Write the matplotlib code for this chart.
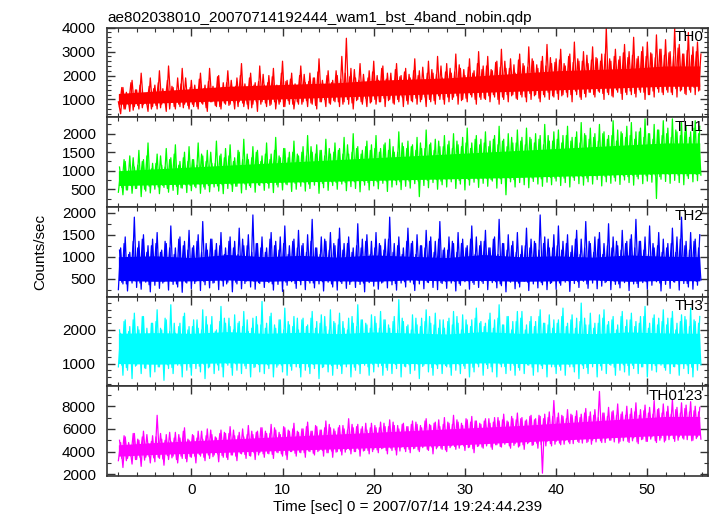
import numpy as np
import matplotlib
matplotlib.use('Agg')
from matplotlib import pyplot as plt
from matplotlib.ticker import MultipleLocator

# light curve of the 4 WAM bands + sum, counts/sec
# "_a" samples start at t0 = -8 s every 0.25 s, "_b" samples fall halfway between them
t_start = -8.0
t_step = 0.25

th0_a = """
900 400 1500 600 1200 500 1800 700 1400 600 2100 800 1100 500 1900 700
1600 600 2200 800 1300 500 2400 900 1500 600 1900 700 2300 800 1200 600
1800 700 1400 600 2100 800 1600 500 2300 900 1300 700 2000 600 1700 800
2200 800 1500 600 1900 900 2500 700 1400 600 2100 800 1700 500 2400 900
1600 700 2000 800 2300 600 1500 900 2600 700 1800 800 2100 600 1400 800
2400 900 1700 700 2100 800 1900 600 2700 900 1500 700 2200 800 1800 900
2000 700 2800 900 3560 800 2300 600 1900 1000 2500 800 1600 700 2200 900
2600 800 1800 900 2400 700 2100 1000 1700 800 2500 900 2000 700 2300 800
1900 900 2700 800 2200 1000 1800 700 2600 900 2100 800 2800 1000 1900 800
2500 900 2100 1100 2900 800 2300 1000 2000 900 2700 1100 2200 800 3000 1000
2400 1000 2800 900 2200 1100 2600 800 3100 1000 2300 900 2700 1200 2100 1000
2900 1100 2400 900 3200 1000 2600 1200 2300 900 2800 1100 3300 1000 2500 1100
2700 1000 3100 1200 2400 1100 2900 900 3400 1200 2600 1000 3000 1100 2500 1300
3200 1100 2700 1300 2900 1000 4000 1200 2600 1100 3100 1300 2800 1000 3300 1200
3000 1200 3600 1100 2800 1300 3200 1000 3400 1200 2900 1100 3700 1300 3100 1200
3500 1300 3000 1200 4000 1100 3300 1400 2900 1200 3800 1300 3200 1200 3400 1400
"""
th0_b = """
700 1500 600 1300 800 1700 550 1400 750 1600 650 1250 800 1550 600 1450
750 1700 650 1450 850 1800 600 1550 700 1350 800 1650 650 1900 750 1500
800 1600 700 1850 850 1450 650 1750 900 1550 750 1950 700 1500 850 1700
750 1800 900 1550 700 2000 850 1650 800 1900 650 1600 900 1750 800 2050
850 1700 750 1950 900 1600 800 2100 700 1750 950 1850 800 1650 900 2000
800 2050 950 1750 850 1900 750 2150 900 1800 1000 2000 850 1700 950 2200
900 1850 800 2100 1000 1950 850 2250 950 1800 900 2050 1050 1900 850 2150
1000 2000 900 2300 1050 1850 950 2100 850 2250 1000 1950 1100 2150 950 2050
950 2200 1050 2000 900 2350 1100 2100 1000 2250 950 2050 1150 2400 1000 2150
1100 2300 1000 2150 1150 2450 950 2250 1050 2350 1200 2100 1000 2500 1100 2250
1050 2400 1150 2250 1200 2550 1000 2350 1100 2600 1200 2300 1150 2450 1050 2650
1200 2500 1100 2350 1250 2700 1150 2450 1050 2600 1200 2400 1300 2750 1150 2550
1250 2650 1150 2500 1300 2800 1200 2550 1350 2700 1100 2600 1250 2850 1300 2650
1200 2750 1350 2600 1250 2900 1300 2700 1150 2800 1400 2650 1250 2950 1300 2750
1350 2850 1250 2700 1400 3000 1300 2800 1200 2950 1350 2750 1450 3100 1300 2850
1400 2950 1300 2800 1450 3150 1350 2900 1250 3050 1400 2850 1500 3000 1350 2900
"""

th1_a = """
420 980 350 1250 480 1400 390 1100 520 1550 300 1300 450 1750 400 1200
500 1450 380 1150 550 1600 420 1350 470 1700 360 1250 530 1500 410 1650
460 1300 540 1750 390 1400 500 1550 430 1200 560 1800 450 1450 380 1600
520 1700 440 1350 580 1500 400 1850 490 1300 550 1650 420 1550 600 1400
470 1750 530 1450 410 1900 560 1350 480 1600 620 1500 440 1800 500 1400
580 1650 450 1950 520 1500 610 1700 390 1550 540 1850 470 1450 600 1750
500 1600 640 1900 460 1450 570 2000 520 1650 430 1550 610 1800 480 1700
590 1950 510 1600 660 1750 440 1850 560 1500 620 2050 490 1650 580 1800
530 1700 650 1900 300 1600 600 2100 540 1750 680 1850 500 1650 620 1950
560 1800 700 2000 520 1700 640 1900 480 2150 610 1750 690 1950 550 1850
660 2050 580 1800 720 1950 530 2200 650 1850 350 2000 700 1750 560 2100
680 1900 620 2150 540 1850 710 2000 640 1950 580 2250 690 1800 620 2050
720 2100 600 1950 680 2200 560 1900 740 2050 650 2300 610 1950 700 2150
640 2000 760 2250 590 2050 700 1950 660 2350 720 2100 630 2000 750 2200
680 2300 610 2050 780 2150 650 2400 720 2000 690 2250 250 2100 770 2350
710 2150 660 2400 740 2050 680 2300 620 2200 790 2050 700 2350 730 2200
"""
th1_b = """
1100 550 1300 480 1000 600 1350 520 1150 650 1250 500 1400 580 1050 620
1200 560 1400 600 1100 520 1300 650 1450 580 1150 540 1350 620 1250 600
1300 580 1150 640 1450 560 1250 600 1500 680 1200 590 1400 620 1350 660
1400 620 1250 580 1550 680 1300 640 1450 600 1350 700 1500 620 1250 660
1450 660 1300 700 1550 620 1400 680 1600 640 1350 720 1500 660 1450 700
1500 680 1400 640 1650 720 1450 700 1550 660 1400 740 1600 700 1500 680
1550 720 1450 680 1700 740 1500 700 1600 760 1450 720 1650 680 1550 740
1600 700 1500 760 1700 720 1550 780 1650 740 1500 700 1750 760 1600 720
1650 760 1550 720 1750 780 1600 740 1700 800 1550 760 1800 720 1650 780
1700 780 1600 820 1800 740 1650 800 1750 760 1600 840 1850 780 1700 800
1750 800 1650 760 1850 840 1700 780 1800 820 1650 800 1900 760 1750 840
1800 820 1700 860 1900 800 1750 840 1850 780 1700 860 1950 820 1800 800
1850 840 1750 800 1950 880 1800 820 1900 860 1750 840 2000 800 1850 880
1900 860 1800 900 2000 840 1850 880 1950 820 1800 900 2050 860 1900 840
1950 880 1850 840 2050 920 1900 860 2000 900 1850 880 2100 840 1950 920
2000 900 1900 940 2100 880 1950 920 2050 860 1900 940 2150 900 2000 880
"""

th2_a = """
250 1200 380 1450 220 1100 400 1900 300 1350 260 1500 420 1250 200 1400
350 1550 280 1150 430 1300 240 1700 370 1200 310 1450 190 1350 400 1600
270 1250 440 1500 230 1800 360 1150 290 1400 410 1300 250 1550 330 1200
420 1450 200 1350 380 1650 270 1250 440 1500 310 1950 260 1300 390 1450
300 1200 410 1550 240 1350 370 1450 210 1700 350 1250 430 1400 280 1600
360 1300 250 1500 400 1850 290 1200 380 1450 220 1350 420 1550 310 1250
240 1650 390 1300 280 1450 430 1200 300 1750 370 1400 200 1500 410 1350
330 1550 260 1250 420 1400 290 1900 360 1300 240 1450 400 1200 310 1650
420 1350 230 1500 380 1250 270 1600 410 1450 300 1350 250 1800 390 1200
280 1450 400 1300 220 1550 350 1400 430 1250 260 1700 370 1450 300 1350
390 1600 250 1200 410 1450 290 1850 340 1300 200 1500 420 1350 270 1550
310 1250 440 1650 230 1400 380 1300 290 1950 360 1450 250 1200 410 1500
260 1700 350 1350 420 1500 210 1250 390 1600 300 1400 440 1800 280 1300
400 1450 270 1550 330 1300 430 1750 250 1450 370 1250 290 1600 410 1350
230 1500 380 1850 300 1350 410 1450 260 1700 350 1200 430 1550 220 1400
370 1300 280 1650 420 1450 240 1900 390 1350 310 1550 260 1400 350 1500
"""
th2_b = """
1150 420 1300 380 1050 500 1350 450 1200 400 1400 520 1100 360 1250 470
1300 480 1100 400 1350 530 1200 440 1050 380 1400 500 1250 420 1150 460
1200 390 1350 510 1100 430 1300 470 1400 400 1150 540 1250 450 1050 380
1350 500 1200 420 1050 460 1400 390 1250 520 1100 440 1300 410 1200 480
1100 440 1400 380 1250 530 1150 460 1300 420 1050 500 1350 390 1200 450
1250 510 1100 450 1350 400 1200 480 1050 430 1400 520 1150 380 1300 460
1400 430 1150 490 1300 370 1100 510 1250 440 1200 400 1350 530 1050 460
1200 470 1300 400 1150 520 1400 450 1100 390 1250 500 1050 430 1350 480
1300 380 1050 460 1250 500 1200 420 1350 470 1100 530 1400 410 1150 440
1150 520 1350 440 1100 390 1300 480 1200 450 1400 410 1050 500 1250 430
1350 460 1200 510 1400 430 1050 380 1300 490 1150 450 1250 520 1100 400
1050 490 1250 420 1200 470 1350 530 1150 410 1300 460 1400 390 1200 510
1250 400 1150 480 1300 450 1100 520 1400 430 1050 470 1200 380 1350 490
1100 530 1400 460 1050 410 1250 490 1200 440 1350 380 1150 510 1300 450
1400 450 1200 390 1350 500 1150 430 1050 480 1300 520 1250 400 1100 470
1200 480 1300 430 1100 510 1400 460 1250 390 1150 500 1350 440 1200 470
"""

th3_a = """
900 1900 650 2300 800 2100 550 2500 950 2000 700 2400 850 1800 600 2200
750 2600 900 2000 500 2300 850 2750 700 1900 950 2200 600 2500 800 2100
650 2300 850 2050 750 2600 550 2150 900 2400 700 2000 800 2700 600 2200
950 2100 650 2450 800 2250 700 2550 850 1950 600 2350 900 2150 750 2850
700 2200 850 2500 600 2050 950 2300 750 2650 650 2150 800 2400 900 2000
600 2350 800 2150 700 2550 850 2250 550 2450 900 2100 750 2600 650 2200
850 2500 700 2050 900 2350 600 2200 800 2750 700 2300 950 2150 650 2450
750 2200 900 2550 650 2300 800 2050 700 2400 850 2900 600 2250 900 2150
700 2450 800 2150 550 2350 950 2600 750 2200 650 2500 850 2300 700 2050
900 2350 650 2550 800 2200 700 2450 850 2150 600 2300 750 2650 900 2250
650 2200 850 2500 750 2300 600 2750 900 2150 700 2400 800 2250 650 2550
800 2550 700 2150 950 2400 650 2250 750 2600 850 2200 600 2450 900 2300
700 2300 800 2650 650 2200 900 2450 750 2350 550 2800 850 2150 700 2500
900 2200 600 2450 800 2600 700 2250 950 2400 650 2150 800 2550 750 2300
650 2500 850 2250 700 2400 900 2700 600 2200 800 2450 750 2350 950 2600
800 2350 700 2550 900 2200 650 2450 850 2300 700 2650 600 2250 800 2400
"""
th3_b = """
2000 950 2250 880 1950 1050 2300 920 2100 1000 2400 870 2050 980 2200 1060
2250 900 2050 1020 2350 960 1950 880 2200 1040 2100 930 2400 1000 2000 890
2100 1050 2300 920 2000 980 2400 870 2150 1030 1950 960 2250 900 2350 1010
2350 880 2000 990 2200 1060 2100 930 2300 1000 2050 880 2400 970 2150 1040
2050 960 2400 1030 2150 890 2300 950 2000 1070 2250 920 2100 1000 2350 880
2300 1020 2100 900 2350 970 2050 1050 2200 880 2400 990 2000 940 2250 1030
2150 930 2250 1000 2000 1060 2400 890 2100 960 2300 1020 2200 900 2050 980
2400 1000 2050 940 2300 880 2150 1030 2250 970 2000 1050 2350 920 2100 960
2000 1040 2350 970 2100 910 2250 1000 2400 880 2150 960 2050 1030 2300 940
2250 890 2150 1020 2400 960 2000 930 2300 1050 2100 890 2350 990 2200 1020
2100 970 2300 900 2050 1040 2350 980 2150 910 2400 1010 2000 950 2250 880
2350 1010 2000 960 2250 890 2100 1050 2400 940 2200 980 2150 1030 2050 900
2200 920 2400 1040 2100 980 2300 900 2050 1010 2250 950 2350 880 2150 1060
2050 1000 2200 930 2350 1050 2150 970 2300 890 2000 1030 2400 960 2100 940
2300 950 2100 1060 2200 900 2400 990 2050 1020 2350 940 2150 1000 2250 880
2150 1030 2350 910 2000 970 2250 1040 2400 950 2100 890 2300 1010 2200 960
"""

th0123_a = """
3200 4800 2600 5300 3400 4500 2900 5600 3300 5000 2700 5800 3500 4700 3000 5400
3100 7200 3400 5100 2800 5500 3300 4900 3600 5700 3000 5200 3400 6100 3100 5000
3500 5400 3000 5800 3600 5100 3200 6000 3400 5500 3700 5200 3100 5900 3500 5600
3300 6200 3700 5400 3200 5700 3800 5300 3400 6300 3600 5500 3300 5800 3900 6100
3500 5600 3800 6400 3400 5900 3900 5500 3600 6100 3300 5800 4000 6500 3600 5700
3900 6000 3500 6600 4000 5800 3700 6200 4100 5900 3600 6700 3900 6100 3500 5800
4000 6300 3700 6000 4200 6900 3800 6100 4000 6400 3600 6200 4100 5900 3800 6500
4200 6100 3900 6600 4300 6200 3800 6800 4100 6300 3700 6000 4400 6500 4000 6200
3900 6700 4300 6400 4000 6100 4500 6900 4100 6300 3800 6600 4400 6200 4200 7000
4000 6500 4500 7200 4200 6600 4600 6300 4100 6800 4400 7100 3900 6700 4500 6400
4300 6900 4700 6500 4200 7000 4600 6700 4400 7300 4800 6600 4300 6900 4700 7400
4500 7000 4200 6800 4800 7200 4600 6900 4300 7100 2100 7300 4900 7500 4500 8500
4900 7400 4600 7100 5000 7700 4700 7200 5100 7600 4800 7300 5200 7800 4900 7500
5000 7700 5300 9300 4800 7400 5200 7900 5000 7600 5400 8200 4900 7500 5300 8000
4800 7800 5200 8300 4700 7700 5100 8100 4900 7900 5300 8500 4800 7800 5200 8200
5000 8000 5400 8600 4900 7900 5300 8300 5100 8100 5500 8400 5000 8000 5300 7900
"""
th0123_b = """
5000 3400 5400 3200 4800 3600 5600 3300 5100 3500 5300 3250 5500 3550 4900 3450
5300 3500 5600 3350 5000 3650 5700 3450 5200 3300 5500 3600 5800 3400 5100 3550
5500 3600 5200 3750 5800 3500 5400 3700 5900 3550 5300 3800 5600 3650 5700 3500
5600 3700 5900 3600 5400 3850 6000 3750 5500 3650 5800 3900 5700 3700 6100 3800
5800 3850 5600 3750 6100 3950 5700 3800 6200 3700 5900 4000 6000 3850 5800 3950
6000 3900 6200 4050 5800 3850 6300 4000 5900 4100 6100 3900 6400 4050 6000 3950
6100 4050 6300 3950 5900 4150 6400 4000 6200 4200 6000 4050 6500 4100 6100 4000
6300 4150 6100 4250 6500 4100 6200 4300 6600 4150 6300 4050 6400 4250 6200 4200
6400 4250 6600 4150 6300 4350 6700 4200 6400 4400 6500 4250 6800 4300 6400 4150
6600 4350 6400 4450 6800 4300 6500 4500 6900 4350 6600 4250 6700 4450 6500 4400
6700 4500 6900 4400 6600 4600 7000 4450 6800 4650 6700 4500 7100 4550 6800 4400
6900 4600 6700 4700 7100 4550 6800 4750 7200 4600 6900 4500 7000 4700 7100 4650
7000 4750 7200 4650 6900 4850 7300 4700 7100 4900 7000 4750 7400 4800 7100 4650
7200 4850 7000 4950 7400 4800 7100 5000 7500 4850 7200 4750 7300 4950 7200 4900
7300 4950 7500 4850 7200 5050 7600 4900 7400 5100 7300 4950 7700 5000 7400 4850
7500 5050 7300 5150 7700 5000 7400 5200 7800 5050 7500 4950 7600 5150 7500 5100
"""

# innermost part of each band where the samples pile up, read every 4 s
core_t = [-8, -4, 0, 4, 8, 12, 16, 20, 24, 28, 32, 36, 40, 44, 48, 52, 55.75]
th0_lo = [800, 850, 900, 950, 1000, 1050, 1100, 1150, 1200, 1250, 1300, 1350, 1400, 1450, 1500, 1550, 1550]
th0_hi = [1250, 1350, 1450, 1550, 1600, 1650, 1700, 1800, 1850, 1900, 2000, 2100, 2200, 2250, 2300, 2400, 2400]
th1_lo = [600, 620, 640, 660, 680, 700, 720, 740, 760, 780, 800, 820, 850, 870, 900, 920, 920]
th1_hi = [1000, 1050, 1100, 1150, 1200, 1250, 1300, 1350, 1400, 1450, 1500, 1550, 1600, 1650, 1700, 1750, 1750]
th2_lo = [460, 440, 450, 470, 440, 460, 450, 440, 470, 450, 460, 440, 450, 470, 440, 460, 450]
th2_hi = [1000, 1020, 980, 1050, 1000, 1030, 990, 1040, 1010, 980, 1050, 1000, 1020, 990, 1040, 1010, 1000]
th3_lo = [1000, 980, 1000, 1020, 990, 1000, 980, 1010, 1000, 990, 1020, 1000, 980, 1000, 1010, 990, 1000]
th3_hi = [1900, 1920, 1900, 1950, 1900, 1930, 1890, 1940, 1910, 1880, 1950, 1900, 1920, 1890, 1940, 1910, 1900]
th0123_lo = [3600, 3750, 3850, 3950, 4050, 4150, 4250, 4350, 4450, 4550, 4700, 4850, 5000, 5150, 5300, 5450, 5450]
th0123_hi = [4600, 4800, 4950, 5100, 5250, 5400, 5550, 5700, 5850, 6000, 6150, 6300, 6500, 6700, 6900, 7100, 7100]

labels = ['TH0', 'TH1', 'TH2', 'TH3', 'TH0123']
colors = ['#ff0000', '#00ff00', '#0000ff', '#00ffff', '#ff00ff']
series = [(th0_a, th0_b), (th1_a, th1_b), (th2_a, th2_b), (th3_a, th3_b), (th0123_a, th0123_b)]
cores = [(th0_lo, th0_hi), (th1_lo, th1_hi), (th2_lo, th2_hi), (th3_lo, th3_hi), (th0123_lo, th0123_hi)]
ylims = [(250, 4000), (20, 2440), (90, 2130), (320, 2990), (1850, 9750)]
ymajor = [1000, 500, 500, 1000, 2000]
yminor = [200, 250, 250, 200, 1000]

title = 'ae802038010_20070714192444_wam1_bst_4band_nobin.qdp'
xlabel = 'Time [sec] 0 = 2007/07/14 19:24:44.239'

plt.rcParams['font.family'] = ['Liberation Sans', 'DejaVu Sans']
plt.rcParams['font.size'] = 11

fig, axes = plt.subplots(5, 1, sharex=True, figsize=(7.17, 5.16), dpi=100)
fig.subplots_adjust(left=0.1492, right=0.9874, top=0.9463, bottom=0.0775, hspace=0)

for ax, (sa, sb), core, lab, col, yl, ymaj, ymin in zip(axes, series, cores, labels, colors, ylims, ymajor, yminor):
    ya = np.array(sa.split(), dtype=float)
    yb = np.array(sb.split(), dtype=float)
    ta = t_start + t_step * np.arange(len(ya))
    ax.fill_between(core_t, core[0], core[1], color=col, linewidth=0)
    ax.plot(ta + t_step / 2, yb, color=col, linewidth=0.9)
    ax.plot(ta, ya, color=col, linewidth=0.9)
    ax.set_ylim(yl)
    ax.set_xlim(-9.25, 56.65)
    ax.yaxis.set_major_locator(MultipleLocator(ymaj))
    ax.yaxis.set_minor_locator(MultipleLocator(ymin))
    ax.xaxis.set_major_locator(MultipleLocator(10))
    ax.xaxis.set_minor_locator(MultipleLocator(2))
    ax.tick_params(which='both', direction='in', top=True, right=True, color='#333333')
    ax.tick_params(which='major', length=6, width=1.0, pad=8)
    ax.tick_params(which='minor', length=3, width=0.8)
    ax.tick_params(axis='x', which='major', pad=5)
    for sp in ax.spines.values():
        sp.set_linewidth(1.2)
        sp.set_color('#333333')
    ax.text(0.992, 0.975, lab, transform=ax.transAxes, ha='right', va='top', fontsize=11)

axes[0].set_title(title, loc='left', fontsize=11, pad=4)
axes[-1].set_xlabel(xlabel, fontsize=11, labelpad=2)
fig.text(0.056, 0.512, 'Counts/sec', rotation=90, ha='center', va='center', fontsize=11)

plt.savefig('out.png', dpi=100)
plt.close()
